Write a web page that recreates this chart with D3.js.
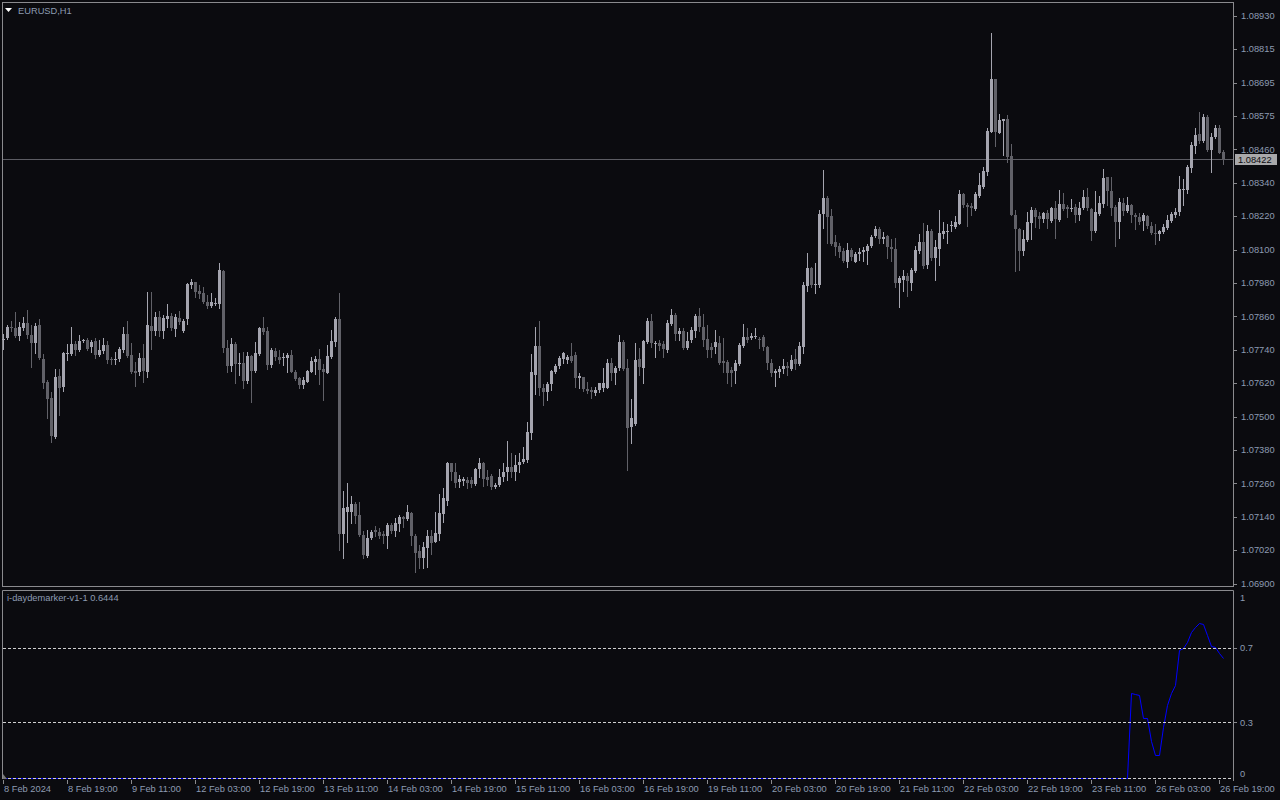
<!DOCTYPE html>
<html><head><meta charset="utf-8">
<script src="https://cdn.jsdelivr.net/npm/d3@7"></script>
<style>
html,body{margin:0;padding:0;background:#0b0b0f;overflow:hidden}
svg{display:block}
text{font-family:"Liberation Sans",Arial,sans-serif;font-size:9.3px}
</style>
</head><body>
<svg id="c" width="1280" height="800"></svg>
<script>
const open=[
1.07772,1.07780,1.07822,1.07816,1.07789,1.07818,1.07833,1.07792,1.07764,1.07828,
1.07706,1.07625,1.07565,1.07428,1.07645,1.07607,1.07726,1.07724,1.07761,1.07739,
1.07770,1.07773,1.07749,1.07770,1.07720,1.07735,1.07756,1.07705,1.07704,1.07705,
1.07737,1.07795,1.07720,1.07663,1.07661,1.07708,1.07661,1.07825,1.07806,1.07857,
1.07806,1.07848,1.07860,1.07813,1.07854,1.07806,1.07849,1.07971,1.07980,1.07949,
1.07943,1.07911,1.07895,1.07903,1.07903,1.08022,1.07744,1.07681,1.07760,1.07687,
1.07690,1.07627,1.07717,1.07663,1.07723,1.07817,1.07806,1.07684,1.07735,1.07714,
1.07708,1.07711,1.07720,1.07661,1.07639,1.07613,1.07625,1.07661,1.07696,1.07706,
1.07670,1.07657,1.07714,1.07768,1.07849,1.07081,1.07160,1.07160,1.07187,1.07148,
1.07077,1.07003,1.07067,1.07095,1.07086,1.07080,1.07071,1.07112,1.07091,1.07116,
1.07142,1.07134,1.07154,1.07073,1.07019,1.06995,1.07031,1.07071,1.07053,1.07081,
1.07152,1.07199,1.07333,1.07301,1.07265,1.07270,1.07273,1.07273,1.07258,1.07313,
1.07333,1.07285,1.07289,1.07249,1.07255,1.07282,1.07301,1.07321,1.07301,1.07325,
1.07339,1.07345,1.07440,1.07649,1.07754,1.07603,1.07589,1.07615,1.07661,1.07679,
1.07706,1.07702,1.07718,1.07720,1.07639,1.07640,1.07599,1.07594,1.07583,1.07595,
1.07601,1.07603,1.07690,1.07655,1.07673,1.07766,1.07673,1.07461,1.07474,1.07705,
1.07675,1.07768,1.07842,1.07760,1.07764,1.07760,1.07738,1.07831,1.07863,1.07795,
1.07806,1.07744,1.07772,1.07807,1.07861,1.07822,1.07776,1.07748,1.07747,1.07764,
1.07699,1.07696,1.07667,1.07664,1.07688,1.07754,1.07783,1.07780,1.07786,1.07778,
1.07783,1.07748,1.07693,1.07655,1.07661,1.07669,1.07682,1.07670,1.07705,1.07688,
1.07748,1.07968,1.08033,1.07971,1.07971,1.08223,1.08283,1.08217,1.08123,1.08110,
1.08093,1.08054,1.08096,1.08054,1.08081,1.08090,1.08093,1.08111,1.08146,1.08171,
1.08134,1.08146,1.08105,1.08099,1.07979,1.07988,1.08003,1.07979,1.08022,1.08093,
1.08126,1.08042,1.08164,1.08066,1.08099,1.08152,1.08161,1.08182,1.08179,1.08189,
1.08296,1.08257,1.08253,1.08242,1.08290,1.08322,1.08376,1.08519,1.08707,1.08515,
1.08557,1.08563,1.08432,1.08221,1.08171,1.08092,1.08131,1.08191,1.08239,1.08218,
1.08207,1.08227,1.08199,1.08245,1.08203,1.08259,1.08249,1.08244,1.08249,1.08221,
1.08245,1.08286,1.08242,1.08164,1.08224,1.08260,1.08356,1.08307,1.08251,1.08197,
1.08263,1.08235,1.08257,1.08221,1.08213,1.08199,1.08217,1.08183,1.08156,1.08153,
1.08161,1.08176,1.08199,1.08221,1.08230,1.08311,1.08310,1.08390,1.08469,1.08510,
1.08485,1.08572,1.08453,1.08499,1.08533,1.08447];
const high=[
1.07794,1.07828,1.07842,1.07875,1.07839,1.07857,1.07881,1.07828,1.07833,1.07849,
1.07723,1.07631,1.07589,1.07670,1.07670,1.07732,1.07758,1.07822,1.07770,1.07792,
1.07777,1.07780,1.07774,1.07780,1.07774,1.07780,1.07770,1.07714,1.07732,1.07750,
1.07822,1.07842,1.07762,1.07696,1.07726,1.07758,1.07947,1.07944,1.07875,1.07878,
1.07863,1.07901,1.07869,1.07866,1.07878,1.07849,1.07977,1.07992,1.07982,1.07971,
1.07962,1.07935,1.07941,1.07925,1.08048,1.08024,1.07774,1.07780,1.07766,1.07726,
1.07732,1.07732,1.07720,1.07766,1.07822,1.07857,1.07822,1.07744,1.07746,1.07738,
1.07726,1.07726,1.07738,1.07667,1.07643,1.07643,1.07667,1.07714,1.07718,1.07742,
1.07687,1.07756,1.07810,1.07857,1.07941,1.07232,1.07261,1.07216,1.07196,1.07193,
1.07089,1.07095,1.07095,1.07109,1.07103,1.07091,1.07118,1.07118,1.07136,1.07148,
1.07146,1.07184,1.07160,1.07079,1.07041,1.07053,1.07095,1.07095,1.07160,1.07222,
1.07243,1.07339,1.07335,1.07333,1.07291,1.07285,1.07282,1.07282,1.07317,1.07351,
1.07339,1.07309,1.07294,1.07261,1.07313,1.07333,1.07413,1.07369,1.07363,1.07369,
1.07392,1.07479,1.07723,1.07822,1.07842,1.07615,1.07625,1.07667,1.07687,1.07718,
1.07732,1.07720,1.07762,1.07732,1.07655,1.07643,1.07625,1.07606,1.07607,1.07621,
1.07673,1.07705,1.07708,1.07679,1.07792,1.07774,1.07705,1.07563,1.07764,1.07744,
1.07774,1.07851,1.07867,1.07770,1.07774,1.07770,1.07845,1.07885,1.07869,1.07816,
1.07818,1.07801,1.07822,1.07866,1.07887,1.07866,1.07828,1.07762,1.07810,1.07788,
1.07780,1.07702,1.07676,1.07702,1.07762,1.07830,1.07816,1.07798,1.07816,1.07786,
1.07792,1.07752,1.07705,1.07669,1.07679,1.07705,1.07696,1.07720,1.07741,1.07768,
1.07981,1.08084,1.08036,1.08050,1.08239,1.08382,1.08289,1.08241,1.08149,1.08120,
1.08102,1.08120,1.08102,1.08087,1.08102,1.08105,1.08117,1.08149,1.08183,1.08179,
1.08161,1.08149,1.08135,1.08138,1.08003,1.08024,1.08015,1.08030,1.08110,1.08153,
1.08191,1.08185,1.08171,1.08131,1.08239,1.08197,1.08187,1.08200,1.08218,1.08310,
1.08298,1.08263,1.08263,1.08304,1.08370,1.08394,1.08533,1.08870,1.08707,1.08581,
1.08564,1.08578,1.08475,1.08239,1.08173,1.08167,1.08230,1.08251,1.08245,1.08230,
1.08233,1.08239,1.08251,1.08271,1.08310,1.08298,1.08257,1.08278,1.08259,1.08269,
1.08310,1.08316,1.08247,1.08307,1.08290,1.08385,1.08358,1.08358,1.08257,1.08281,
1.08281,1.08286,1.08259,1.08227,1.08227,1.08227,1.08221,1.08197,1.08187,1.08167,
1.08187,1.08221,1.08233,1.08245,1.08362,1.08350,1.08400,1.08481,1.08531,1.08588,
1.08581,1.08578,1.08513,1.08543,1.08543,1.08453];
const low=[
1.07742,1.07777,1.07806,1.07786,1.07774,1.07810,1.07780,1.07678,1.07726,1.07706,
1.07603,1.07494,1.07408,1.07425,1.07506,1.07592,1.07702,1.07720,1.07720,1.07736,
1.07766,1.07737,1.07730,1.07711,1.07718,1.07726,1.07690,1.07687,1.07687,1.07699,
1.07732,1.07712,1.07655,1.07611,1.07649,1.07625,1.07643,1.07742,1.07792,1.07789,
1.07782,1.07822,1.07810,1.07789,1.07830,1.07801,1.07830,1.07959,1.07929,1.07923,
1.07905,1.07887,1.07891,1.07899,1.07889,1.07732,1.07661,1.07663,1.07621,1.07649,
1.07603,1.07621,1.07553,1.07658,1.07720,1.07796,1.07670,1.07678,1.07702,1.07690,
1.07684,1.07661,1.07658,1.07631,1.07601,1.07601,1.07623,1.07658,1.07651,1.07615,
1.07559,1.07655,1.07711,1.07754,1.07023,1.06995,1.07053,1.07118,1.07118,1.07074,
1.06995,1.06999,1.07062,1.07071,1.07067,1.07047,1.07029,1.07083,1.07074,1.07089,
1.07106,1.07130,1.07041,1.06943,1.06960,1.06957,1.06963,1.07007,1.07050,1.07059,
1.07122,1.07184,1.07273,1.07249,1.07249,1.07255,1.07246,1.07249,1.07255,1.07285,
1.07253,1.07255,1.07241,1.07243,1.07252,1.07270,1.07273,1.07282,1.07273,1.07303,
1.07333,1.07339,1.07420,1.07580,1.07577,1.07541,1.07559,1.07595,1.07655,1.07673,
1.07690,1.07690,1.07696,1.07607,1.07603,1.07592,1.07583,1.07565,1.07577,1.07587,
1.07592,1.07601,1.07631,1.07618,1.07667,1.07667,1.07309,1.07404,1.07470,1.07649,
1.07619,1.07762,1.07748,1.07713,1.07738,1.07714,1.07732,1.07828,1.07774,1.07772,
1.07741,1.07742,1.07768,1.07786,1.07807,1.07754,1.07714,1.07714,1.07729,1.07688,
1.07661,1.07621,1.07609,1.07619,1.07685,1.07750,1.07768,1.07776,1.07782,1.07744,
1.07738,1.07669,1.07645,1.07611,1.07640,1.07655,1.07649,1.07667,1.07669,1.07685,
1.07729,1.07949,1.07962,1.07943,1.07965,1.08173,1.08122,1.08114,1.08078,1.08070,
1.08052,1.08036,1.08060,1.08052,1.08060,1.08058,1.08046,1.08108,1.08141,1.08122,
1.08120,1.08068,1.08058,1.07965,1.07893,1.07950,1.07931,1.07953,1.08018,1.08086,
1.08032,1.08030,1.08060,1.07988,1.08042,1.08137,1.08120,1.08164,1.08176,1.08187,
1.08251,1.08183,1.08221,1.08239,1.08286,1.08319,1.08364,1.08516,1.08469,1.08513,
1.08435,1.08412,1.08219,1.08021,1.08024,1.08078,1.08128,1.08135,1.08179,1.08173,
1.08197,1.08176,1.08197,1.08140,1.08199,1.08239,1.08215,1.08235,1.08197,1.08203,
1.08242,1.08239,1.08131,1.08161,1.08221,1.08251,1.08257,1.08221,1.08111,1.08140,
1.08221,1.08230,1.08195,1.08171,1.08187,1.08167,1.08176,1.08152,1.08116,1.08131,
1.08155,1.08171,1.08197,1.08215,1.08221,1.08257,1.08298,1.08376,1.08441,1.08477,
1.08483,1.08450,1.08376,1.08495,1.08441,1.08402];
const close=[
1.07777,1.07822,1.07816,1.07789,1.07822,1.07833,1.07792,1.07764,1.07824,1.07711,
1.07621,1.07562,1.07432,1.07642,1.07603,1.07727,1.07727,1.07760,1.07738,1.07770,
1.07773,1.07742,1.07768,1.07720,1.07738,1.07756,1.07702,1.07704,1.07705,1.07740,
1.07795,1.07717,1.07661,1.07655,1.07708,1.07663,1.07828,1.07806,1.07857,1.07806,
1.07854,1.07860,1.07818,1.07857,1.07837,1.07842,1.07974,1.07980,1.07947,1.07938,
1.07911,1.07895,1.07910,1.07905,1.08024,1.07746,1.07681,1.07760,1.07687,1.07690,
1.07627,1.07717,1.07663,1.07726,1.07817,1.07801,1.07684,1.07738,1.07714,1.07702,
1.07712,1.07720,1.07661,1.07634,1.07613,1.07631,1.07663,1.07699,1.07706,1.07667,
1.07661,1.07717,1.07770,1.07849,1.07079,1.07172,1.07176,1.07187,1.07146,1.07077,
1.07005,1.07065,1.07087,1.07086,1.07074,1.07071,1.07112,1.07089,1.07118,1.07140,
1.07134,1.07158,1.07071,1.07013,1.06995,1.07032,1.07073,1.07047,1.07083,1.07154,
1.07208,1.07333,1.07300,1.07261,1.07276,1.07277,1.07264,1.07259,1.07313,1.07333,
1.07277,1.07273,1.07249,1.07255,1.07282,1.07303,1.07321,1.07303,1.07325,1.07339,
1.07347,1.07444,1.07658,1.07752,1.07603,1.07587,1.07617,1.07663,1.07681,1.07711,
1.07726,1.07714,1.07700,1.07639,1.07645,1.07599,1.07592,1.07587,1.07595,1.07619,
1.07619,1.07690,1.07655,1.07673,1.07766,1.07670,1.07458,1.07494,1.07702,1.07676,
1.07770,1.07842,1.07762,1.07763,1.07754,1.07742,1.07836,1.07863,1.07795,1.07807,
1.07744,1.07770,1.07810,1.07861,1.07819,1.07774,1.07738,1.07738,1.07766,1.07693,
1.07693,1.07657,1.07657,1.07693,1.07756,1.07783,1.07774,1.07788,1.07787,1.07772,
1.07747,1.07690,1.07655,1.07663,1.07671,1.07682,1.07673,1.07702,1.07688,1.07752,
1.07971,1.08033,1.07971,1.07974,1.08224,1.08283,1.08215,1.08117,1.08108,1.08087,
1.08056,1.08096,1.08072,1.08080,1.08090,1.08096,1.08110,1.08141,1.08171,1.08134,
1.08142,1.08108,1.08098,1.07979,1.07994,1.08003,1.07983,1.08024,1.08096,1.08126,
1.08040,1.08164,1.08068,1.08108,1.08155,1.08164,1.08164,1.08185,1.08197,1.08296,
1.08257,1.08248,1.08247,1.08296,1.08328,1.08378,1.08521,1.08707,1.08519,1.08561,
1.08563,1.08429,1.08221,1.08171,1.08092,1.08135,1.08195,1.08239,1.08215,1.08207,
1.08227,1.08207,1.08247,1.08207,1.08259,1.08242,1.08242,1.08247,1.08219,1.08247,
1.08284,1.08245,1.08164,1.08233,1.08263,1.08352,1.08307,1.08245,1.08197,1.08269,
1.08235,1.08257,1.08219,1.08215,1.08197,1.08221,1.08183,1.08155,1.08154,1.08165,
1.08178,1.08203,1.08224,1.08230,1.08314,1.08314,1.08394,1.08471,1.08507,1.08485,
1.08572,1.08453,1.08501,1.08533,1.08444,1.08422];
const demarker=[
0,0,0,0,0,0,0,0,0,0, 0,0,0,0,0,0,0,0,0,0, 0,0,0,0,0,0,0,0,0,0, 0,0,0,0,0,0,0,0,0,0,
0,0,0,0,0,0,0,0,0,0, 0,0,0,0,0,0,0,0,0,0, 0,0,0,0,0,0,0,0,0,0, 0,0,0,0,0,0,0,0,0,0,
0,0,0,0,0,0,0,0,0,0, 0,0,0,0,0,0,0,0,0,0, 0,0,0,0,0,0,0,0,0,0, 0,0,0,0,0,0,0,0,0,0,
0,0,0,0,0,0,0,0,0,0, 0,0,0,0,0,0,0,0,0,0, 0,0,0,0,0,0,0,0,0,0, 0,0,0,0,0,0,0,0,0,0,
0,0,0,0,0,0,0,0,0,0, 0,0,0,0,0,0,0,0,0,0, 0,0,0,0,0,0,0,0,0,0, 0,0,0,0,0,0,0,0,0,0,
0,0,0,0,0,0,0,0,0,0, 0,0,0,0,0,0,0,0,0,0, 0,0,0,0,0,0,0,0,0,0, 0,0,0,0,0,0,0,0,0,0,
0,0,0,0,0,0,0,0,0,0, 0,0,0,0,0,0,0,0,0,0, 0,0,0,0,0,0,0,0,0,0, 0,0,0,0,0,0,0,0,0,0,
0,0,
0.455,0.45,0.445,0.324,0.324,0.2,0.124,0.124,0.276,0.39,
0.457,0.5,0.688,0.70,0.733,0.787,0.813,0.835,0.828,0.769,
0.71,0.706,0.674,0.6444];
// grid positions of the price scale and the (rounded) labels the terminal prints there
const priceTicks=[1.089300,1.088106,1.086912,1.085718,1.084524,1.083329,1.082135,1.080941,1.079747,
  1.078553,1.077359,1.076165,1.074971,1.073776,1.072582,1.071388,1.070194,1.069000];
const priceLabels=["1.08930","1.08815","1.08695","1.08575","1.08460","1.08340","1.08220","1.08100","1.07980",
  "1.07860","1.07740","1.07620","1.07500","1.07380","1.07260","1.07140","1.07020","1.06900"];
const currentPrice=1.08422;
const timeLabels=["8 Feb 2024","8 Feb 19:00","9 Feb 11:00","12 Feb 03:00","12 Feb 19:00","13 Feb 11:00",
  "14 Feb 03:00","14 Feb 19:00","15 Feb 11:00","16 Feb 03:00","16 Feb 19:00","19 Feb 11:00",
  "20 Feb 03:00","20 Feb 19:00","21 Feb 11:00","22 Feb 03:00","22 Feb 19:00","23 Feb 11:00",
  "26 Feb 03:00","26 Feb 19:00"];
const timeLabelBars=[0,16,32,48,64,80,96,112,128,144,160,176,192,208,224,240,256,272,288,304];
const levels=[0.7,0.3,0];
const indTicks=[1,0.7,0.3,0];
const symbolTitle="EURUSD,H1";
const indTitle="i-daydemarker-v1-1 0.6444";

const svg=d3.select("#c");
const TXT="#8d9bb2", FRAME="#8a8a8e", BULL="#a5a5af", BEAR="#616168";
svg.append("rect").attr("width",1280).attr("height",800).attr("fill","#0b0b0f");

const n=open.length;
const x=d3.scaleLinear().domain([0,n-1]).range([3,3+4*(n-1)]);
const y=d3.scaleLinear().domain([1.06900,1.08930]).range([584.3,16.7]);
const yi=d3.scaleLinear().domain([0,1]).range([778,592]);

// frames
const fr=svg.append("g").attr("fill","none").attr("stroke",FRAME).attr("stroke-width",1);
fr.append("rect").attr("x",2.5).attr("y",2.5).attr("width",1231).attr("height",584);
fr.append("path").attr("d","M2.5,779V590.5H1233.5V781");

// current price line
const cyl=Math.round(y(currentPrice))+0.5;
svg.append("line").attr("x1",3).attr("x2",1233).attr("y1",cyl).attr("y2",cyl).attr("stroke","#5c5c63");

// candles
const idx=d3.range(n);
const cg=svg.append("g");
cg.selectAll("line.w").data(idx).join("line").attr("class","w")
  .attr("x1",i=>x(i)+0.5).attr("x2",i=>x(i)+0.5)
  .attr("y1",i=>Math.round(y(high[i]))).attr("y2",i=>Math.round(y(low[i]))+1)
  .attr("stroke",i=>close[i]>=open[i]?BULL:BEAR).attr("stroke-width",1);
cg.selectAll("rect.b").data(idx).join("rect").attr("class","b")
  .attr("x",i=>x(i)-1).attr("width",3)
  .attr("y",i=>Math.round(y(Math.max(open[i],close[i]))))
  .attr("height",i=>Math.max(1,Math.round(y(Math.min(open[i],close[i])))-Math.round(y(Math.max(open[i],close[i])))))
  .attr("fill",i=>close[i]>=open[i]?BULL:BEAR);

// price axis
const ag=svg.append("g");
ag.selectAll("line").data(priceTicks).join("line")
  .attr("x1",1234).attr("x2",1237).attr("y1",d=>Math.round(y(d)-0.8)+0.5).attr("y2",d=>Math.round(y(d)-0.8)+0.5)
  .attr("stroke",FRAME);
ag.selectAll("text").data(priceTicks).join("text")
  .attr("x",1241).attr("y",d=>y(d)+2.4).attr("fill",TXT).text((d,i)=>priceLabels[i]);

// current price label
const cy=Math.round(y(currentPrice));
svg.append("rect").attr("x",1235).attr("y",cy-5).attr("width",42).attr("height",11).attr("fill","#a9a9ab");
svg.append("text").attr("x",1238).attr("y",cy+3.5).attr("fill","#0b0b0f").text(currentPrice.toFixed(5));

// title
svg.append("path").attr("d","M5,8H12L8.5,12Z").attr("fill","#ffffff");
svg.append("text").attr("x",18).attr("y",14).attr("fill",TXT).text(symbolTitle);

// indicator
svg.append("text").attr("x",7).attr("y",601).attr("fill",TXT).text(indTitle);
const line=d3.line().x((d,i)=>x(i)+0.5).y(d=>Math.round(yi(d))+0.5);
svg.append("path").datum(demarker).attr("d",line).attr("fill","none").attr("stroke","#0000ff").attr("stroke-width",1);
svg.selectAll("line.lvl").data(levels).join("line").attr("class","lvl")
  .attr("x1",3).attr("x2",1233).attr("y1",d=>Math.round(yi(d))+0.5).attr("y2",d=>Math.round(yi(d))+0.5)
  .attr("stroke","#d0d0d0").attr("stroke-dasharray","3,2");
svg.selectAll("text.it").data(indTicks).join("text").attr("class","it")
  .attr("x",1240).attr("y",d=>d===1?yi(d)+9:d===0?yi(d)-1:yi(d)+3.5).attr("fill",TXT).text(d=>d);
svg.selectAll("line.itk").data([0.7,0.3]).join("line").attr("class","itk")
  .attr("x1",1234).attr("x2",1237).attr("y1",d=>Math.round(yi(d))+0.5).attr("y2",d=>Math.round(yi(d))+0.5).attr("stroke",FRAME);

// time axis
svg.append("path").attr("d","M3,774L3,779L7,779Z").attr("fill","#777");
const tg=svg.append("g");
tg.selectAll("line").data(timeLabelBars).join("line")
  .attr("x1",b=>x(b)+0.5).attr("x2",b=>x(b)+0.5).attr("y1",780).attr("y2",784).attr("stroke",FRAME);
tg.selectAll("text").data(timeLabelBars).join("text")
  .attr("x",b=>x(b)+1).attr("y",792).attr("fill",TXT).text((b,i)=>timeLabels[i]);
</script>
</body></html>
